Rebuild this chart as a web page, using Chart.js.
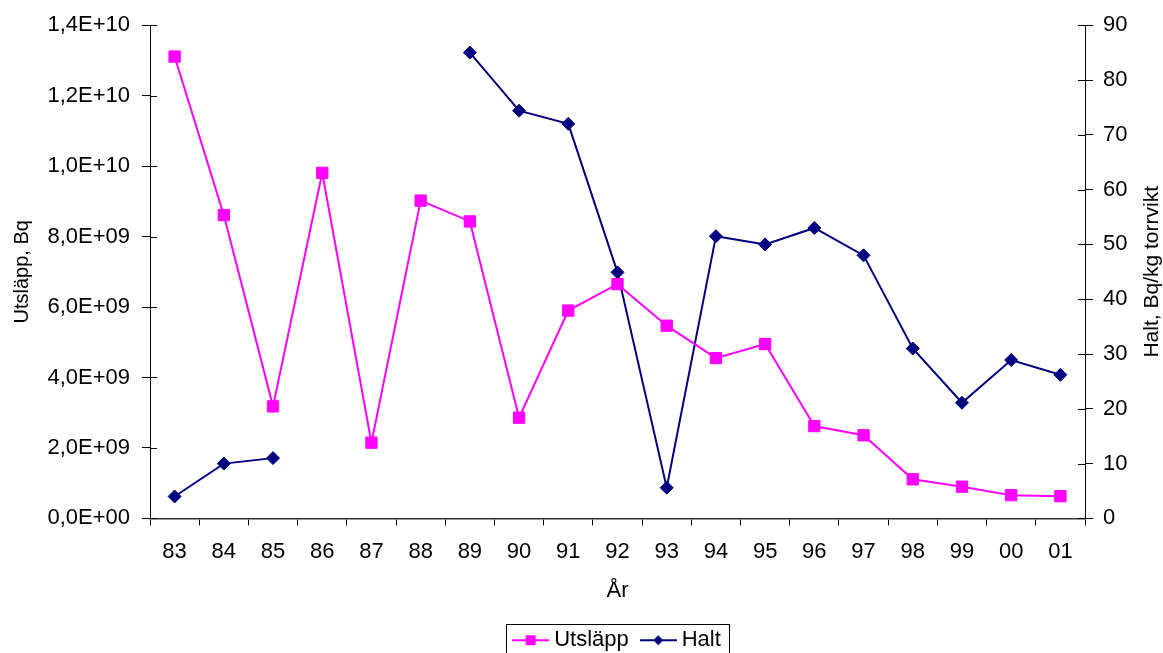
<!DOCTYPE html>
<html>
<head>
<meta charset="utf-8">
<script src="https://cdn.jsdelivr.net/npm/chart.js@4"></script>
<style>
  html, body { margin: 0; padding: 0; background: #fff; }
  #wrap { width: 1163px; height: 653px; }
</style>
</head>
<body>
<div id="wrap"><canvas id="utslappChart"></canvas></div>
<script>
const years = ['83', '84', '85', '86', '87', '88', '89', '90', '91', '92', '93', '94', '95', '96', '97', '98', '99', '00', '01'];
// Bq
const utslapp = [1.311e10, 8.61e9, 3.18e9, 9.81e9, 2.15e9, 9.02e9, 8.43e9, 2.86e9, 5.90e9, 6.65e9, 5.47e9, 4.55e9, 4.95e9, 2.62e9, 2.36e9, 1.11e9, 0.90e9, 0.66e9, 0.63e9];
// Bq/kg torrvikt, no samples 86-88
const halt = [4, 10, 11, null, null, null, 85, 74.4, 72, 44.9, 5.6, 51.5, 50, 53, 48, 31, 21.1, 28.9, 26.2];

const FONT = "'Liberation Sans', Arial, sans-serif";
Chart.defaults.font.family = FONT;
Chart.defaults.color = '#000';

// 1,4E+10 style labels
function sciLabel(v) {
  if (v === 0) return '0,0E+00';
  const e = Math.floor(Math.log10(v) + 1e-9);
  const m = v / Math.pow(10, e);
  return m.toFixed(1).replace('.', ',') + 'E+' + String(e).padStart(2, '0');
}

// legend icons: short line with the marker in the middle
function legendIcon(color, shape) {
  const c = document.createElement('canvas');
  c.width = 37; c.height = 14;
  const g = c.getContext('2d');
  g.strokeStyle = color; g.lineWidth = 2;
  g.beginPath(); g.moveTo(0, 7); g.lineTo(37, 7); g.stroke();
  g.fillStyle = color;
  g.beginPath();
  if (shape === 'rect') {
    g.rect(13.5, 2, 10, 10);
  } else {
    g.moveTo(18.5, 2); g.lineTo(23.5, 7); g.lineTo(18.5, 12); g.lineTo(13.5, 7);
    g.closePath();
  }
  g.fill();
  return c;
}
const icons = [legendIcon('#ff00ff', 'rect'), legendIcon('#000080', 'diamond')];

const extras = {
  id: 'extras',
  afterLayout(chart) {
    // centre the legend under the plot area
    const lg = chart.legend, ca = chart.chartArea;
    const dx = (ca.left + ca.right) / 2 + 2 - (lg.left + lg.right) / 2;
    lg.left += dx; lg.right += dx;
  },
  beforeDatasetsDraw(chart) {
    const ctx = chart.ctx;
    ctx.save();
    ctx.strokeStyle = '#000';
    ctx.lineWidth = 1;
    const y = chart.scales.y, y1 = chart.scales.y1;
    y.ticks.forEach((t, i) => {
      const p = Math.round(y.getPixelForTick(i)) + 0.5;
      ctx.beginPath(); ctx.moveTo(y.right, p); ctx.lineTo(y.right + 7, p); ctx.stroke();
    });
    y1.ticks.forEach((t, i) => {
      const p = Math.round(y1.getPixelForTick(i)) + 0.5;
      ctx.beginPath(); ctx.moveTo(y1.left - 7, p); ctx.lineTo(y1.left, p); ctx.stroke();
    });
    ctx.restore();
  },
  afterDraw(chart) {
    const ctx = chart.ctx, ca = chart.chartArea;
    ctx.save();
    // right axis title, reading bottom to top
    ctx.translate(1152, (ca.top + ca.bottom) / 2);
    ctx.rotate(-Math.PI / 2);
    ctx.font = '21px ' + FONT;
    ctx.fillStyle = '#000';
    ctx.textAlign = 'center';
    ctx.textBaseline = 'middle';
    ctx.fillText('Halt, Bq/kg torrvikt', 0, 0);
    ctx.restore();

    // frame round the legend
    const lg = chart.legend;
    const p = lg.options.labels.padding;
    const L = lg.lineWidths[0];
    const start = (lg.left + p + lg.right - L) / 2;
    const end = start + L - p;
    const top = lg.top + p;
    ctx.save();
    ctx.strokeStyle = '#000';
    ctx.lineWidth = 1;
    ctx.strokeRect(Math.round(start - 12) + 0.5, Math.round(top - 5) + 0.5, Math.round(end - start + 20), 40);
    ctx.restore();
  }
};

new Chart(document.getElementById('utslappChart'), {
  type: 'line',
  data: {
    labels: years,
    datasets: [{
      label: 'Utsläpp',
      data: utslapp,
      yAxisID: 'y',
      borderColor: '#ff00ff',
      backgroundColor: '#ff00ff',
      borderWidth: 2,
      pointStyle: 'rect',
      pointRadius: 8,
      pointBorderWidth: 1,
      pointBackgroundColor: '#ff00ff',
      pointBorderColor: '#ff00ff',
      tension: 0
    }, {
      label: 'Halt',
      data: halt,
      yAxisID: 'y1',
      borderColor: '#000080',
      backgroundColor: '#000080',
      borderWidth: 2,
      pointStyle: 'rectRot',
      pointRadius: 6.5,
      pointBorderWidth: 1,
      pointBackgroundColor: '#000080',
      pointBorderColor: '#000080',
      spanGaps: false,
      tension: 0
    }]
  },
  options: {
    responsive: true,
    maintainAspectRatio: false,
    animation: false,
    devicePixelRatio: 1,
    layout: { padding: { top: 21.7, left: 0, right: 0, bottom: -8.2 } },
    plugins: {
      tooltip: { enabled: false },
      legend: {
        position: 'bottom',
        labels: {
          usePointStyle: true,
          pointStyleWidth: 25,
          padding: 17,
          font: { size: 22 },
          color: '#000',
          generateLabels: chart => chart.data.datasets.map((ds, i) => ({
            text: ds.label,
            pointStyle: icons[i],
            datasetIndex: i,
            fillStyle: ds.borderColor,
            strokeStyle: ds.borderColor,
            lineWidth: 0,
            hidden: false
          }))
        }
      }
    },
    scales: {
      x: {
        offset: true,
        grid: { display: true, offset: true, drawOnChartArea: false, drawTicks: true, tickLength: 7, color: '#000' },
        border: { display: true, color: '#333', width: 1.5 },
        ticks: { font: { size: 22 }, padding: 13, maxRotation: 0, autoSkip: false },
        title: { display: true, text: 'År', font: { size: 22 }, padding: { top: 0, bottom: 8.3 } },
        afterFit: s => { s.height = 93.8; }
      },
      y: {
        position: 'left',
        min: 0,
        max: 1.4e10,
        grid: { display: true, drawOnChartArea: false, tickLength: 8, color: '#000' },
        border: { display: true, color: '#000', width: 1 },
        ticks: { stepSize: 2e9, font: { size: 22 }, padding: 12, callback: v => sciLabel(v) },
        title: { display: true, text: 'Utsläpp, Bq', font: { size: 20 }, padding: { top: 10, bottom: 0 } },
        afterFit: s => { s.width = 150; }
      },
      y1: {
        position: 'right',
        min: 0,
        max: 90,
        grid: { display: true, drawOnChartArea: false, tickLength: 8, color: '#000' },
        border: { display: true, color: '#000', width: 1 },
        ticks: { stepSize: 10, font: { size: 22 }, padding: 10 },
        afterFit: s => { s.width = 78; }
      }
    }
  },
  plugins: [extras]
});
</script>
</body>
</html>
